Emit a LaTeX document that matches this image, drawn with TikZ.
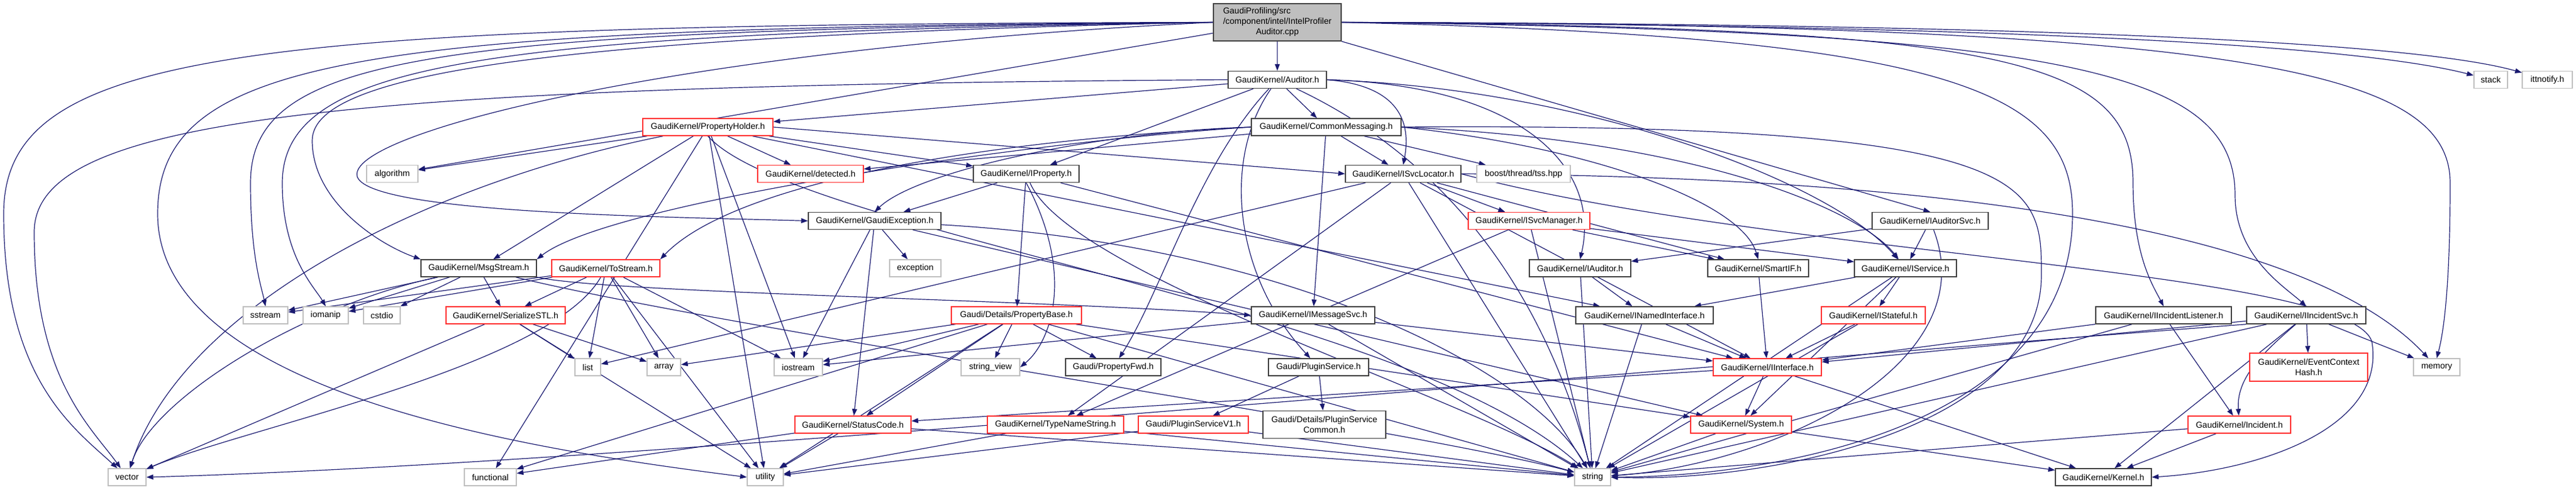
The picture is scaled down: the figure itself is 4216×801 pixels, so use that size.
\documentclass[tikz,border=0pt]{standalone}
\usepackage{fontspec}
\setmainfont{Liberation Sans}
\usetikzlibrary{arrows.meta,backgrounds}
\definecolor{eb}{HTML}{191970}
\definecolor{dk}{HTML}{404040}
\definecolor{rd}{HTML}{FF3030}
\definecolor{lg}{HTML}{BFBFBF}
\tikzset{
 nd/.style={draw, fill=white, inner sep=0pt, minimum height=28pt, line width=1.4pt, font=\fontsize{14}{17}\selectfont, align=center},
 kb/.style={nd, draw=dk},
 rb/.style={nd, draw=rd},
 gb/.style={nd, draw=lg},
 mb/.style={nd, draw=dk, fill=lg},
 e/.style={draw=eb, line width=1.2pt, -{Triangle[length=11pt,width=8pt]}},
}
\begin{document}
\begin{tikzpicture}[x=1pt,y=-1pt]
\useasboundingbox (0,0) rectangle (4216,801);
% nodes
\node[mb, minimum width=209pt, minimum height=61pt] (main) at (2090.5,36.5) {\begin{tabular}{@{}l@{}}GaudiProfiling/src\\/component/intel/IntelProfiler\\\multicolumn{1}{@{}c@{}}{Auditor.cpp}\end{tabular}};
\node[kb, minimum width=161pt] (aud) at (2090.5,130.5) {GaudiKernel/Auditor.h};
\node[rb, minimum width=213pt] (ph) at (1158.5,208) {GaudiKernel/PropertyHolder.h};
\node[kb, minimum width=245pt] (cm) at (2170.5,208) {GaudiKernel/CommonMessaging.h};
\node[gb, minimum width=84pt] (alg) at (642,284.5) {algorithm};
\node[rb, minimum width=173pt] (det) at (1326.5,284.5) {GaudiKernel/detected.h};
\node[kb, minimum width=173pt] (ip) at (1679.5,284.5) {GaudiKernel/IProperty.h};
\node[kb, minimum width=189pt] (isl) at (2296.5,284.5) {GaudiKernel/ISvcLocator.h};
\node[gb, minimum width=153pt] (bst) at (2493.5,284.5) {boost/thread/tss.hpp};
\node[kb, minimum width=217pt] (gex) at (1431.5,361.5) {GaudiKernel/GaudiException.h};
\node[rb, minimum width=199pt] (ism) at (2502.5,361.5) {GaudiKernel/ISvcManager.h};
\node[kb, minimum width=190pt] (ias) at (3159,361.5) {GaudiKernel/IAuditorSvc.h};
\node[kb, minimum width=189pt] (msg) at (783.5,439) {GaudiKernel/MsgStream.h};
\node[rb, minimum width=177pt] (tos) at (991.5,439) {GaudiKernel/ToStream.h};
\node[gb, minimum width=84pt] (exc) at (1498,439) {exception};
\node[kb, minimum width=166pt] (iau) at (2586,439) {GaudiKernel/IAuditor.h};
\node[kb, minimum width=165pt] (sif) at (2877.5,439) {GaudiKernel/SmartIF.h};
\node[kb, minimum width=167pt] (isv) at (3118.5,439) {GaudiKernel/IService.h};
\node[gb, minimum width=73pt] (sst) at (434.5,516) {sstream};
\node[gb, minimum width=74pt] (iom) at (533,516) {iomanip};
\node[gb, minimum width=60pt] (csd) at (625,516) {cstdio};
\node[rb, minimum width=195pt] (ser) at (827.5,516) {GaudiKernel/SerializeSTL.h};
\node[rb, minimum width=213pt] (pb) at (1663.5,516) {Gaudi/Details/PropertyBase.h};
\node[kb, minimum width=202pt] (ims) at (2149,516) {GaudiKernel/IMessageSvc.h};
\node[kb, minimum width=225pt] (ini) at (2691.5,516) {GaudiKernel/INamedInterface.h};
\node[rb, minimum width=170pt] (ist) at (3066,516) {GaudiKernel/IStateful.h};
\node[kb, minimum width=222pt] (iil) at (3541,516) {GaudiKernel/IIncidentListener.h};
\node[kb, minimum width=195pt] (iis) at (3774.5,516) {GaudiKernel/IIncidentSvc.h};
\node[gb, minimum width=42pt] (lst) at (962,601) {list};
\node[gb, minimum width=55pt] (arr) at (1086.5,601) {array};
\node[gb, minimum width=79pt] (ios) at (1306.5,601) {iostream};
\node[gb, minimum width=96pt] (sv) at (1621,601) {string\_view};
\node[kb, minimum width=156pt] (pfw) at (1822,601) {Gaudi/PropertyFwd.h};
\node[kb, minimum width=164pt] (psv) at (2158,601) {Gaudi/PluginService.h};
\node[rb, minimum width=177pt] (iif) at (2892.5,601) {GaudiKernel/IInterface.h};
\node[rb, minimum width=193pt, minimum height=46pt] (ech) at (3778.5,601) {GaudiKernel/EventContext\\Hash.h};
\node[gb, minimum width=76pt] (mem) at (3988,601) {memory};
\node[rb, minimum width=190pt] (sc) at (1396,695) {GaudiKernel/StatusCode.h};
\node[rb, minimum width=223pt] (tns) at (1727.5,695) {GaudiKernel/TypeNameString.h};
\node[rb, minimum width=180pt] (pv1) at (1953,695) {Gaudi/PluginServiceV1.h};
\node[kb, minimum width=201pt, minimum height=45pt] (psc) at (2167.5,695) {Gaudi/Details/PluginService\\Common.h};
\node[rb, minimum width=165pt] (sys) at (2849.5,695) {GaudiKernel/System.h};
\node[rb, minimum width=168pt] (inc) at (3665,695) {GaudiKernel/Incident.h};
\node[gb, minimum width=62pt] (vec) at (208,781) {vector};
\node[gb, minimum width=85pt] (fun) at (802.5,781) {functional};
\node[gb, minimum width=59pt] (uti) at (1252.5,781) {utility};
\node[gb, minimum width=59pt] (str) at (2606.5,781) {string};
\node[kb, minimum width=157pt] (ker) at (3442.5,781) {GaudiKernel/Kernel.h};
\node[gb, minimum width=55pt] (stk) at (4076.5,130.5) {stack};
\node[gb, minimum width=82pt] (itt) at (4169,130.5) {ittnotify.h};
% edges
\begin{pgfonlayer}{background}
% main
\draw[e] (main) -- (aud);
\draw[e] (main.east) .. controls (3000,40) and (3800,60) .. (stk);
\draw[e] (main.east) .. controls (3000,38) and (3900,55) .. (itt);
\draw[e] (main.south east) -- (ias.north);
\draw[e] (main.east) .. controls (3300,45) and (3491,100) .. (3491,300) .. controls (3491,420) and (3525,470) .. (iil.north);
\draw[e] (main.east) .. controls (3400,50) and (3658,120) .. (3658,320) .. controls (3658,420) and (3740,470) .. (iis.north);
\draw[e] (main.east) .. controls (3700,40) and (4010,120) .. (4010,300) .. controls (4010,500) and (3995,560) .. (mem.north);
\draw[e] (main.east) .. controls (3200,60) and (3392,150) .. (3392,350) .. controls (3392,700) and (2900,780) .. (str.east);
\draw[e] (main.west) .. controls (400,40) and (6,80) .. (6,350) .. controls (6,620) and (120,700) .. (vec);
\draw[e] (main.west) .. controls (600,45) and (258,90) .. (258,350) .. controls (258,650) and (900,740) .. (uti.west);
\draw[e] (main.west) .. controls (700,50) and (410,90) .. (410,300) .. controls (410,420) and (428,470) .. (sst.north);
\draw[e] (main.west) .. controls (800,55) and (462,100) .. (462,300) .. controls (462,420) and (515,470) .. (iom.north);
\draw[e] (main.west) .. controls (900,60) and (511,120) .. (511,230) .. controls (511,330) and (620,400) .. (msg.north west);
\draw[e] (main) -- (alg);
\draw[e] (main.west) .. controls (1100,80) and (560,220) .. (585,290) .. controls (610,350) and (1100,355) .. (gex.west);
% Auditor
\draw[e] (aud) -- (ph);
\draw[e] (aud) -- (cm);
\draw[e] (aud) -- (ip);
\draw[e] (aud.east) .. controls (2290,140) and (2310,200) .. (isl.north);
\draw[e] (aud.east) .. controls (2500,140) and (2620,280) .. (iau.north);
\draw[e] (aud) .. controls (1960,270) and (1900,480) .. (pfw);
\draw[e] (aud) .. controls (2000,260) and (2019,450) .. (psv);
\draw[e] (aud.east) .. controls (2600,145) and (3000,300) .. (isv);
\draw[e] (aud) .. controls (2450,300) and (2560,600) .. (str);
\draw[e] (aud.west) .. controls (500,140) and (56,200) .. (56,380) .. controls (56,620) and (150,700) .. (vec);
% PropertyHolder
\draw[e] (ph) -- (alg);
\draw[e] (ph) -- (det);
\draw[e] (ph) -- (ip);
\draw[e] (ph.east) -- (isl.west);
\draw[e] (ph) -- (msg);
\draw[e] (ph) -- (ios);
\draw[e] (ph) -- (fun);
\draw[e] (ph) -- (uti);
\draw[e] (ph) .. controls (700,300) and (300,500) .. (vec);
\draw[e] (ph) -- (ini);
\draw[e] (ph.south) .. controls (1300,380) and (2300,500) .. (str);
% CommonMessaging
\draw[e] (cm) -- (isl);
\draw[e] (cm) -- (bst);
\draw[e] (cm) -- (ims);
\draw[e] (cm) -- (det);
\draw[e] (cm.west) .. controls (1700,230) and (1000,330) .. (msg.north east);
\draw[e] (cm.west) .. controls (1800,215) and (1500,280) .. (gex.north);
\draw[e] (cm.west) .. controls (1600,230) and (1200,300) .. (tos.north east);
\draw[e] (cm.east) .. controls (2600,240) and (2850,330) .. (sif.north);
\draw[e] (cm.east) .. controls (2800,230) and (3050,350) .. (isv);
\draw[e] (cm.east) .. controls (3341,200) and (3341,300) .. (3341,450) .. controls (3341,700) and (2900,790) .. (str.east);
% IProperty
\draw[e] (ip) -- (gex);
\draw[e] (ip) -- (pb);
\draw[e] (ip) -- (iif);
\draw[e] (ip) .. controls (1750,450) and (2400,650) .. (str);
\draw[e] (ip.south) .. controls (1760,450) and (1720,560) .. (sv.east);
% ISvcLocator
\draw[e] (isl) -- (ism);
\draw[e] (isl) -- (sif);
\draw[e] (isl) -- (iif);
\draw[e] (isl) -- (lst);
\draw[e] (isl) -- (tns);
\draw[e] (isl) -- (str);
\draw[e] (isl.east) .. controls (2900,420) and (3850,440) .. (3882,560) .. controls (3905,700) and (3700,770) .. (ker.east);
\draw[e] (isl.east) .. controls (3300,290) and (3800,400) .. (mem);
% ISvcManager
\draw[e] (ism) -- (isv);
\draw[e] (ism) -- (sif);
\draw[e] (ism) -- (tns);
\draw[e] (ism) -- (str);
% GaudiException
\draw[e] (gex) -- (exc);
\draw[e] (gex) -- (sc);
\draw[e] (gex) -- (ios);
\draw[e] (gex) -- (sys);
\draw[e] (gex) .. controls (2100,400) and (2500,600) .. (str);
% MsgStream
\draw[e] (msg) -- (sst);
\draw[e] (msg) -- (iom);
\draw[e] (msg) -- (csd);
\draw[e] (msg) -- (ser);
\draw[e] (msg.south east) .. controls (1000,480) and (1700,490) .. (ims.west);
\draw[e] (msg) .. controls (500,500) and (250,650) .. (vec);
\draw[e] (msg) .. controls (1200,540) and (2300,700) .. (str);
% ToStream
\draw[e] (tos) -- (sst);
\draw[e] (tos) -- (iom);
\draw[e] (tos) -- (ser);
\draw[e] (tos) -- (lst);
\draw[e] (tos) -- (arr);
\draw[e] (tos) -- (ios);
\draw[e] (tos) -- (uti);
\draw[e] (tos) .. controls (900,600) and (400,700) .. (vec);
% SerializeSTL
\draw[e] (ser) -- (lst);
\draw[e] (ser) -- (arr);
\draw[e] (ser) -- (vec);
\draw[e] (ser) -- (uti);
% PropertyBase
\draw[e] (pb) -- (sv);
\draw[e] (pb) -- (pfw);
\draw[e] (pb) -- (sc);
\draw[e] (pb) -- (ios);
\draw[e] (pb) -- (uti);
\draw[e] (pb) -- (fun);
\draw[e] (pb) -- (str);
\draw[e] (pb) -- (sys);
\draw[e] (pb) -- (arr);
% IAuditor, SmartIF, IService, IAuditorSvc
\draw[e] (iau) -- (ini);
\draw[e] (iau) -- (str);
\draw[e] (sif) -- (iif);
\draw[e] (isv) -- (ini);
\draw[e] (isv) -- (ist);
\draw[e] (isv) -- (str);
\draw[e] (isv) -- (sys);
\draw[e] (ias) -- (isv);
\draw[e] (ias) -- (iau);
\draw[e] (ias) .. controls (3250,600) and (2900,760) .. (str);
% row 6
\draw[e] (ims) -- (iif);
\draw[e] (ims) -- (ios);
\draw[e] (ims) -- (str);
\draw[e] (ini) -- (iif);
\draw[e] (ini) -- (str);
\draw[e] (ist) -- (iif);
\draw[e] (ist) -- (str);
\draw[e] (iil) -- (iif);
\draw[e] (iil) -- (inc);
\draw[e] (iil) -- (str);
\draw[e] (iis) -- (iif);
\draw[e] (iis) -- (ech);
\draw[e] (iis) -- (mem);
\draw[e] (iis) .. controls (3700,580) and (3660,620) .. (inc);
\draw[e] (iis) -- (str);
\draw[e] (iis) -- (ker);
\draw[e] (iis.south west) .. controls (2500,620) and (1000,760) .. (vec.east);
% lower rows
\draw[e] (psv) -- (pv1);
\draw[e] (psv) -- (psc);
\draw[e] (iif) -- (sys);
\draw[e] (iif) -- (ker);
\draw[e] (iif) -- (sc);
\draw[e] (sc) -- (fun);
\draw[e] (sc) -- (uti);
\draw[e] (sc) -- (str);
\draw[e] (tns) -- (str);
\draw[e] (tns) -- (uti);
\draw[e] (pv1) -- (str);
\draw[e] (pv1) -- (uti);
\draw[e] (sys) -- (str);
\draw[e] (sys) -- (ker);
\draw[e] (inc) -- (str);
\draw[e] (inc) -- (ker);
\end{pgfonlayer}
\end{tikzpicture}
\end{document}
